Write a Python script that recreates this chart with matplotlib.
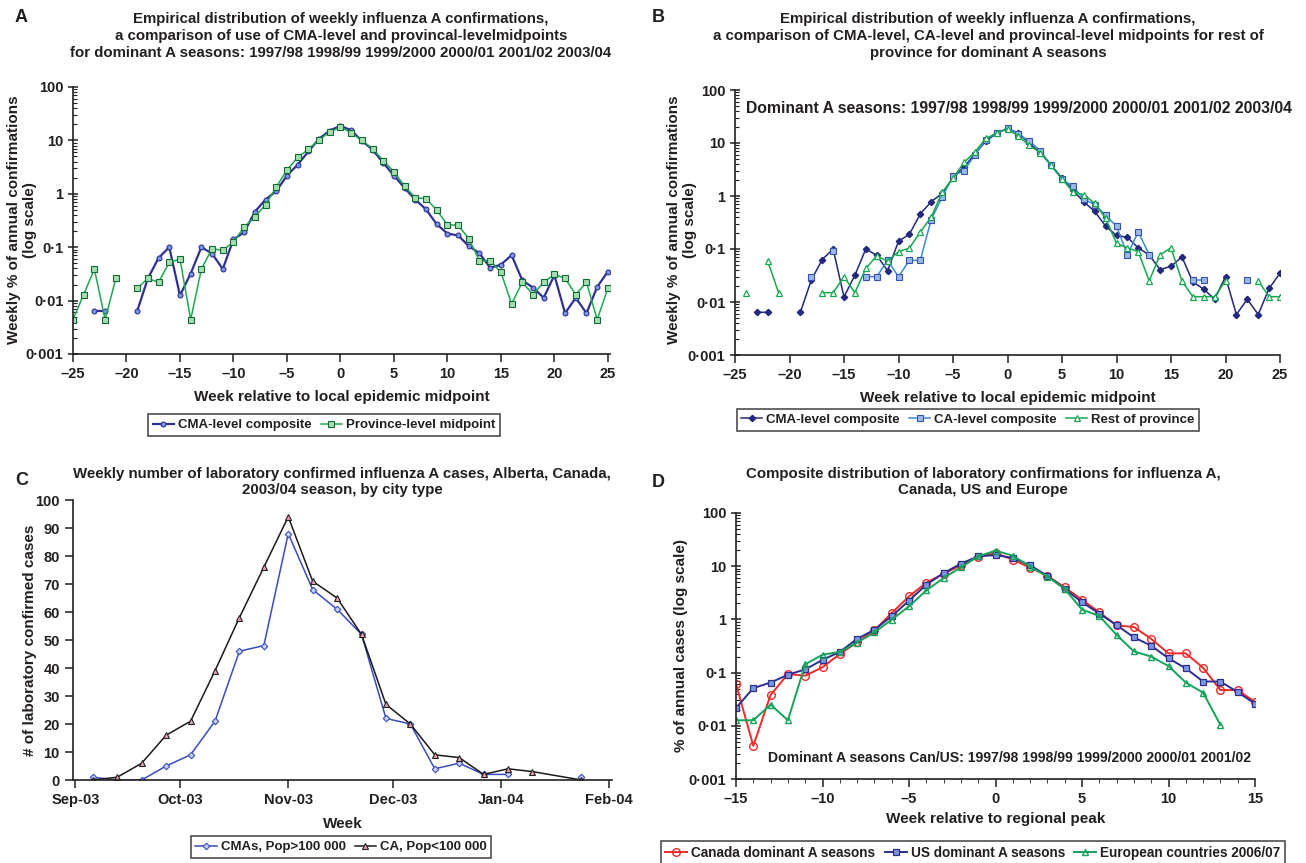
import datetime as dt
import numpy as np
import matplotlib
matplotlib.use('Agg')
import matplotlib.pyplot as plt
import matplotlib.dates as mdates
from matplotlib.ticker import FixedLocator, FixedFormatter, NullFormatter

plt.rcParams['font.family'] = ['Liberation Sans', 'DejaVu Sans']
plt.rcParams['font.weight'] = 'bold'
plt.rcParams['axes.labelweight'] = 'bold'

nan = np.nan
TXT = '#231f20'

# ---- panels A and B: weeks relative to local midpoint ----
weeks_ab = list(range(-25, 26))

cma_composite = [nan, nan, 0.0064, 0.0064, nan, nan, 0.0064, 0.026, 0.063, 0.10,
                 0.0125, 0.032, 0.10, 0.076, 0.039, 0.14, 0.19, 0.46, 0.78, 1.12,
                 2.2, 3.5, 6.2, 10.7, 15.3, 18.7, 15.5, 9.8, 6.7, 3.8,
                 2.2, 1.28, 0.78, 0.51, 0.27, 0.18, 0.166, 0.105, 0.077, 0.041,
                 0.047, 0.071, 0.024, 0.0175, 0.0113, 0.03, 0.0058, 0.0113, 0.0058, 0.018,
                 0.035]

province_midpoint = [0.0044, 0.013, 0.039, 0.0044, 0.026, nan, 0.017, 0.026, 0.022, 0.052,
                     0.06, 0.0044, 0.039, 0.094, 0.087, 0.126, 0.237, 0.37, 0.63, 1.33,
                     2.8, 4.8, 6.8, 10.3, 14.3, 17.8, 13.9, 10.0, 7.0, 4.2,
                     2.6, 1.39, 0.84, 0.81, 0.5, 0.26, 0.26, 0.144, 0.056, 0.056,
                     0.034, 0.0087, 0.022, 0.013, 0.022, 0.031, 0.026, 0.013, 0.022, 0.0044,
                     0.017]

ca_composite = [nan, nan, nan, nan, nan, nan, nan, 0.030, nan, 0.091,
                nan, nan, 0.030, 0.030, 0.061, 0.030, 0.061, 0.061, 0.36, 0.94,
                2.4, 3.0, 5.9, 11.4, 15.7, 18.9, 14.9, 10.8, 7.2, 3.8,
                2.06, 1.53, 0.87, 0.69, 0.43, 0.27, 0.078, 0.21, 0.078, nan,
                nan, nan, 0.026, 0.026, nan, nan, nan, 0.026, nan, nan,
                nan]

rest_of_province = [nan, 0.015, nan, 0.059, 0.015, nan, nan, nan, 0.015, 0.015,
                    0.030, 0.015, 0.043, 0.074, 0.059, 0.089, 0.104, 0.21, 0.40, 1.17,
                    2.15, 4.3, 6.7, 12.2, 15.2, 18.4, 13.5, 9.0, 6.6, 3.8,
                    2.1, 1.2, 1.05, 0.73, 0.38, 0.128, 0.105, 0.089, 0.025, 0.078,
                    0.105, 0.025, 0.0126, 0.0126, 0.0126, 0.025, nan, nan, 0.025, 0.0126,
                    0.0126]

# ---- panel C: Alberta 2003/04, week ending dates ----
first_week = dt.date(2003, 9, 6)
week_dates = [first_week + dt.timedelta(days=7 * i) for i in range(21)]
cmas_cases = [1, 0, 0, 5, 9, 21, 46, 48, 88, 68, 61, 52, 22, 20, 4, 6, 2, 2, nan, nan, 1]
ca_cases = [0, 1, 6, 16, 21, 39, 58, 76, 94, 71, 65, 52, 27, 20, 9, 8, 2, 4, 3, nan, 0]
month_ticks = [dt.date(2003, 9, 1), dt.date(2003, 10, 1), dt.date(2003, 11, 1),
               dt.date(2003, 12, 1), dt.date(2004, 1, 1), dt.date(2004, 2, 1)]
month_labels = ['Sep-03', 'Oct-03', 'Nov-03', 'Dec-03', 'Jan-04', 'Feb-04']

# ---- panel D: weeks relative to regional peak ----
weeks_d = list(range(-15, 16))
canada = [0.061, 0.0042, 0.038, 0.094, 0.0875, 0.126, 0.224, 0.37, 0.62, 1.32,
          2.7, 4.9, 7.2, 10.4, 14.9, 17.7, 13.3, 9.4, 6.6, 4.0,
          2.34, 1.36, 0.77, 0.72, 0.43, 0.23, 0.23, 0.123, 0.047, 0.047, 0.028]
us = [0.0216, 0.051, 0.065, 0.091, 0.115, 0.173, 0.245, 0.43, 0.64, 1.15,
      2.25, 4.5, 7.4, 11.2, 15.3, 16.2, 14.3, 10.4, 6.6, 3.75,
      2.1, 1.29, 0.78, 0.46, 0.32, 0.186, 0.12, 0.068, 0.068, 0.043, 0.026]
europe = [0.0127, 0.0127, 0.025, 0.0127, 0.143, 0.217, 0.245, 0.366, 0.57, 0.99,
          1.76, 3.5, 6.0, 9.5, 15.3, 19.6, 15.8, 9.8, 6.4, 3.75,
          1.53, 1.16, 0.51, 0.25, 0.2, 0.133, 0.065, 0.042, 0.0104, nan, nan]

log_ticks = [0.001, 0.01, 0.1, 1, 10, 100]
log_labels = ['0·001', '0·01', '0·1', '1', '10', '100']

W, H = 1306, 863
fig = plt.figure(figsize=(W / 100, H / 100), dpi=100)


def box(l, t, r, b):
    return [l / W, 1 - b / H, (r - l) / W, (b - t) / H]


def ftext(x, y, s, **kw):
    # place text in figure pixels (from top-left)
    kw.setdefault('color', TXT)
    kw.setdefault('ha', 'center')
    kw.setdefault('va', 'center')
    return fig.text(x / W, 1 - y / H, s, **kw)


def style(ax):
    for s in ['top', 'right']:
        ax.spines[s].set_visible(False)
    for s in ['left', 'bottom']:
        ax.spines[s].set_linewidth(1.2)
        ax.spines[s].set_color(TXT)
    ax.tick_params(labelsize=10.5, colors=TXT, width=1.1)
    for t in ax.get_xticklabels() + ax.get_yticklabels():
        t.set_fontweight('bold')


def log_axis(ax):
    ax.set_yscale('log')
    ax.set_ylim(0.001, 100)
    ax.yaxis.set_major_locator(FixedLocator(log_ticks))
    ax.yaxis.set_major_formatter(FixedFormatter(log_labels))
    minors = [m * 10.0 ** e for e in range(-3, 2) for m in range(2, 10)]
    ax.yaxis.set_minor_locator(FixedLocator(minors))
    ax.yaxis.set_minor_formatter(NullFormatter())
    ax.tick_params(axis='y', which='major', direction='inout', length=7)
    ax.tick_params(axis='y', which='minor', direction='in', length=3, width=0.8, colors=TXT)


def week_axis(ax, lo, hi, step):
    ticks = list(range(lo, hi + 1, step))
    ax.xaxis.set_major_locator(FixedLocator(ticks))
    ax.xaxis.set_major_formatter(FixedFormatter([str(t).replace('-', '–') for t in ticks]))
    ax.tick_params(axis='x', which='major', direction='out', length=6)


def legend(handles, cx, cy, fs=9.5):
    leg = fig.legend(handles=handles, loc='center', bbox_to_anchor=(cx / W, 1 - cy / H),
                     ncol=len(handles), fontsize=fs, frameon=True, fancybox=False,
                     edgecolor=TXT, handlelength=1.6, handletextpad=0.3,
                     columnspacing=0.7, borderpad=0.35, borderaxespad=0)
    leg.get_frame().set_linewidth(1.2)
    for t in leg.get_texts():
        t.set_color(TXT)
        t.set_fontweight('bold')


TITLE_FS = 10.8
LABEL_FS = 11

# ===== Panel A =====
axA = fig.add_axes(box(73, 87, 610, 354))
lA1, = axA.plot(weeks_ab, cma_composite, color='#2E3192', lw=1.6, marker='o', ms=3.5,
                mfc='#7B96E0', mec='#2E3192', mew=0.8, label='CMA-level composite')
lA2, = axA.plot(weeks_ab, province_midpoint, color='#1FA84F', lw=1.1, marker='s', ms=4,
                mfc='#A6DDB0', mec='#0F6B35', mew=0.8, label='Province-level midpoint')
log_axis(axA)
axA.set_xlim(-25, 25.2)
week_axis(axA, -25, 25, 5)
axA.set_xlabel('Week relative to local epidemic midpoint', fontsize=LABEL_FS, color=TXT, labelpad=6)
style(axA)
ftext(22, 220, 'Weekly % of annual confirmations\n(log scale)', rotation=90,
      fontsize=LABEL_FS, linespacing=1.1)
legend([lA1, lA2], 324, 425)
ftext(15, 18, 'A', fontsize=13, ha='left')
ftext(341, 36,
      'Empirical distribution of weekly influenza A confirmations,\n'
      'a comparison of use of CMA-level and provincal-levelmidpoints\n'
      'for dominant A seasons: 1997/98 1998/99 1999/2000 2000/01 2001/02 2003/04',
      fontsize=TITLE_FS, linespacing=1.25)

# ===== Panel B =====
axB = fig.add_axes(box(735, 90, 1280, 355))
lB1, = axB.plot(weeks_ab, cma_composite, color='#23287F', lw=1.1, marker='D', ms=3.2,
                mfc='#23287F', mec='#23287F', label='CMA-level composite')
lB2, = axB.plot(weeks_ab, ca_composite, color='#3A8AD6', lw=1.1, marker='s', ms=4,
                mfc='#9BB8E8', mec='#3452B4', mew=0.8, label='CA-level composite')
lB3, = axB.plot(weeks_ab, rest_of_province, color='#16A84F', lw=1.1, marker='^', ms=4.5,
                mfc='white', mec='#16A84F', mew=0.9, label='Rest of province')
log_axis(axB)
axB.set_xlim(-25, 25)
week_axis(axB, -25, 25, 5)
axB.set_xlabel('Week relative to local epidemic midpoint', fontsize=LABEL_FS, color=TXT, labelpad=6)
axB.text(0.02, 0.932, 'Dominant A seasons: 1997/98 1998/99 1999/2000 2000/01 2001/02 2003/04',
         transform=axB.transAxes, fontsize=11.3, color=TXT, va='center', clip_on=False)
style(axB)
ftext(682, 220, 'Weekly % of annual confirmations\n(log scale)', rotation=90,
      fontsize=LABEL_FS, linespacing=1.1)
legend([lB1, lB2, lB3], 968, 420)
ftext(652, 18, 'B', fontsize=13, ha='left')
ftext(988, 36,
      'Empirical distribution of weekly influenza A confirmations,\n'
      'a comparison of CMA-level, CA-level and provincal-level midpoints for rest of\n'
      'province for dominant A seasons',
      fontsize=TITLE_FS, linespacing=1.25)

# ===== Panel C =====
axC = fig.add_axes(box(73, 500, 612, 780))
# the CA series bridges its missing week; the CMA series does not
ca_x = [d for d, v in zip(week_dates, ca_cases) if not np.isnan(v)]
ca_y = [v for v in ca_cases if not np.isnan(v)]
lC1, = axC.plot(week_dates, cmas_cases, color='#3B4CC0', lw=1.1, marker='D', ms=3.3,
                mfc='#C9D3F2', mec='#3B4CC0', mew=0.8, label='CMAs, Pop>100 000')
lC2, = axC.plot(ca_x, ca_y, color='#1A1A1A', lw=1.1, marker='^', ms=4.5,
                mfc='#E6A0AA', mec='#222222', mew=0.8, label='CA, Pop<100 000')
axC.set_ylim(0, 100)
axC.set_yticks(range(0, 101, 10))
axC.set_xlim(mdates.date2num(dt.date(2003, 9, 1)) - 0.7, mdates.date2num(dt.date(2004, 2, 1)) + 0.8)
axC.set_xticks(mdates.date2num(month_ticks))
axC.set_xticklabels(month_labels)
axC.tick_params(axis='both', direction='out', length=6)
axC.set_xlabel('Week', fontsize=LABEL_FS, color=TXT, labelpad=7)
style(axC)
ftext(30, 640, '# of laboratory confirmed cases', rotation=90, fontsize=LABEL_FS)
legend([lC1, lC2], 341, 847)
ftext(15, 480, 'C', fontsize=13, ha='left')
ftext(342, 482,
      'Weekly number of laboratory confirmed influenza A cases, Alberta, Canada,\n'
      '2003/04 season, by city type',
      fontsize=TITLE_FS, linespacing=1.25)

# ===== Panel D =====
axD = fig.add_axes(box(736, 513, 1255, 779))
lD1, = axD.plot(weeks_d, canada, color='#EE2A2A', lw=1.4, marker='o', ms=5.5,
                mfc='none', mec='#EE2A2A', mew=1.0, label='Canada dominant A seasons')
lD2, = axD.plot(weeks_d, us, color='#2B2F90', lw=1.4, marker='s', ms=4.2,
                mfc='#7C97DF', mec='#2B2F90', mew=0.9, label='US dominant A seasons')
lD3, = axD.plot(weeks_d, europe, color='#14A35A', lw=1.4, marker='^', ms=5,
                mfc='none', mec='#14A35A', mew=1.0, label='European countries 2006/07')
log_axis(axD)
axD.set_xlim(-15, 15)
week_axis(axD, -15, 15, 5)
axD.xaxis.set_minor_locator(FixedLocator(weeks_d))
axD.tick_params(axis='x', which='minor', direction='out', length=3, colors=TXT)
axD.set_xlabel('Week relative to regional peak', fontsize=LABEL_FS, color=TXT, labelpad=4)
axD.text(0.062, 0.08, 'Dominant A seasons Can/US: 1997/98 1998/99 1999/2000 2000/01 2001/02',
         transform=axD.transAxes, fontsize=10.1, color=TXT, va='center')
style(axD)
ftext(681, 646, '% of annual cases (log scale)', rotation=90, fontsize=LABEL_FS)
legend([lD1, lD2, lD3], 973, 853, fs=9.8)
ftext(652, 482, 'D', fontsize=13, ha='left')
ftext(983, 482,
      'Composite distribution of laboratory confirmations for influenza A,\n'
      'Canada, US and Europe',
      fontsize=TITLE_FS, linespacing=1.25)

fig.savefig('out.png', dpi=100)
